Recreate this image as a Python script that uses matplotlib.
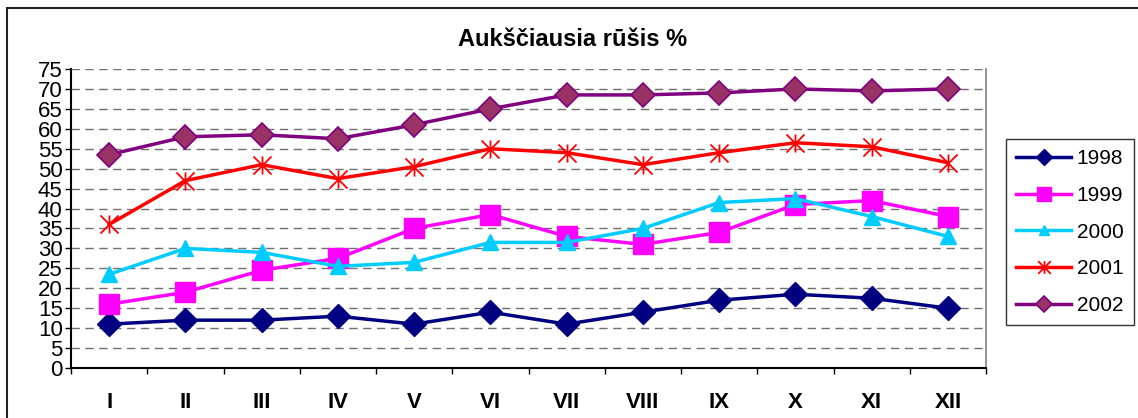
import numpy as np
import matplotlib
matplotlib.use("Agg")
import matplotlib.pyplot as plt
from matplotlib.path import Path
from matplotlib.patches import Rectangle

plt.rcParams['font.family'] = ['Liberation Sans', 'DejaVu Sans']

# month labels (roman numerals) and yearly series, %
months = ["I", "II", "III", "IV", "V", "VI", "VII", "VIII", "IX", "X", "XI", "XII"]
y1998 = [11, 12, 12, 13, 11, 14, 11, 14, 17, 18.5, 17.5, 15]
y1999 = [16, 19, 24.5, 27.5, 35, 38.5, 33, 31, 34, 41, 42, 38]
y2000 = [23.5, 30, 29, 25.5, 26.5, 31.5, 31.5, 35, 41.5, 42.5, 38, 33]
y2001 = [36, 47, 51, 47.5, 50.5, 55, 54, 51, 54, 56.5, 55.5, 51.5]
y2002 = [53.5, 58, 58.5, 57.5, 61, 65, 68.5, 68.5, 69, 70, 69.5, 70]

# excel style star: vertical bar plus an X
star = Path([(0, -1), (0, 1), (-1, -1), (1, 1), (-1, 1), (1, -1)],
            [Path.MOVETO, Path.LINETO, Path.MOVETO, Path.LINETO, Path.MOVETO, Path.LINETO])

W, H = 1138, 418
fig = plt.figure(figsize=(W / 100, H / 100), dpi=100)
ax = fig.add_axes([71 / W, 1 - 368 / H, (986 - 71) / W, (368 - 69) / H])

x = np.arange(1, len(months) + 1)
ax.plot(x, y1998, color="#000080", lw=2.5, marker="D", ms=12, mfc="#000080", mec="#000080", label="1998", zorder=3)
ax.plot(x, y1999, color="#FF00FF", lw=2.5, marker="s", ms=14, mfc="#FF00FF", mec="#FF00FF", label="1999", zorder=3)
ax.plot(x, y2000, color="#00CCFF", lw=2.5, marker="^", ms=11, mfc="#00CCFF", mec="#00CCFF", label="2000", zorder=3)
ax.plot(x, y2001, color="#FF0000", lw=2.5, marker=star, ms=13, mew=1.3, mec="#FF0000", label="2001", zorder=3)
ax.plot(x, y2002, color="#800080", lw=2.5, marker="D", ms=12, mfc="#993366", mec="#800080", mew=1.2, label="2002", zorder=3)

ax.set_xlim(0.5, 12.5)
ax.set_ylim(0, 75)
ax.set_yticks(np.arange(0, 76, 5))
ax.tick_params(axis='y', labelsize=16, length=4, width=1, pad=2, direction='out')
ax.set_xticks(x)
ax.set_xticklabels(months, fontsize=16, fontweight='bold')
ax.tick_params(axis='x', which='major', length=0, pad=17)
ax.set_xticks(np.arange(0.5, 12.6, 1), minor=True)
ax.tick_params(axis='x', which='minor', length=4, width=1, direction='out')

ax.yaxis.grid(True, color="#707070", linestyle=(0, (6, 4)), lw=1)
ax.set_axisbelow(True)
ax.spines['left'].set_color('black')
ax.spines['bottom'].set_color('black')
ax.spines['left'].set_linewidth(1.5)
ax.spines['bottom'].set_linewidth(1.5)
ax.spines['right'].set_color('#808080')
ax.spines['right'].set_linewidth(1.2)
ax.spines['top'].set_visible(False)

fig.text(573 / W, 1 - 40 / H, "Aukščiausia rūšis %", ha='center', va='center',
         fontsize=17, fontweight='bold')

leg = fig.legend(loc='center', bbox_to_anchor=(1070 / W, 1 - 232 / H), fontsize=15,
                 frameon=True, fancybox=False, handlelength=2.6, handletextpad=0.3,
                 labelspacing=0.85, borderpad=0.5, borderaxespad=0, markerscale=0.7)
leg.get_frame().set_edgecolor('black')
leg.get_frame().set_linewidth(1)

# outer chart border, cut off at right and bottom as in the source
fig.add_artist(Rectangle((7 / W, -0.1), 1.2, 1 - 8 / H + 0.1, transform=fig.transFigure,
                         fill=False, edgecolor='#222222', lw=1.5))

fig.savefig("out.png", dpi=100)
